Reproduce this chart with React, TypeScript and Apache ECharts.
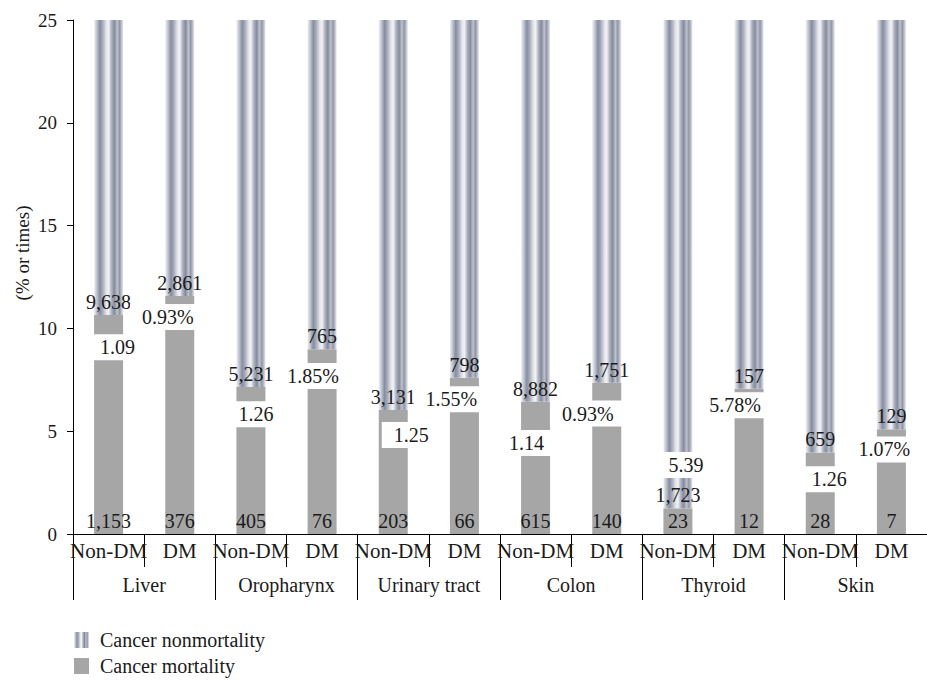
import React, { useEffect, useRef } from 'react';
import * as echarts from 'echarts';

// ---- data ----
const groups = ['Liver', 'Oropharynx', 'Urinary tract', 'Colon', 'Thyroid', 'Skin'];
const subgroups = ['Non-DM', 'DM'];
const mortalityHeight = [10.65, 11.58, 7.15, 8.98, 6.03, 7.6, 6.44, 7.36, 1.25, 7.07, 3.97, 5.09];
const axisMax = 25;
const mortalityCount = ['1,153', '376', '405', '76', '203', '66', '615', '140', '23', '12', '28', '7'];
const nonMortalityCount = ['9,638', '2,861', '5,231', '765', '3,131', '798', '8,882', '1,751', '1,723', '157', '659', '129'];
const ratioLabels = ['1.09', '0.93%', '1.26', '1.85%', '1.25', '1.55%', '1.14', '0.93%', '5.39', '5.78%', '1.26', '1.07%'];
const yTicks = [0, 5, 10, 15, 20, 25];

// ---- layout of the boxed ratio labels (value units / px) ----
const ratioLabelY = [9.08, 10.55, 5.82, 7.68, 4.82, 6.55, 4.42, 5.86, 3.35, 6.26, 2.66, 4.11];
const ratioLabelDx = [9, -12, 5, -9, 18, -13, -9, -19, 8, -14, 9, -7];

const FONT = 'Liberation Serif';
const TEXT = '#1a1a1a';

export default function App() {
  const ref = useRef<HTMLDivElement>(null);
  useEffect(() => {
    document.body.style.margin = '0';
    const chart = echarts.init(ref.current!, null, { renderer: 'svg' });
    const categories: string[] = [];
    groups.forEach(() => subgroups.forEach((s) => categories.push(s)));

    const stripe = new echarts.graphic.LinearGradient(0, 0, 1, 0, [
      { offset: 0.0, color: '#eeeff2' },
      { offset: 0.08, color: '#c8cbd5' },
      { offset: 0.2, color: '#878da1' },
      { offset: 0.3, color: '#a9aebd' },
      { offset: 0.42, color: '#e2e4e9' },
      { offset: 0.5, color: '#f3f3f5' },
      { offset: 0.6, color: '#aeb2c0' },
      { offset: 0.7, color: '#858b9f' },
      { offset: 0.8, color: '#bfc2cc' },
      { offset: 0.88, color: '#9096a8' },
      { offset: 1.0, color: '#e6e7eb' },
    ]);

    const option: any = {
      animation: false,
      textStyle: { fontFamily: FONT },
      grid: { left: 73, top: 20, width: 863, height: 514, containLabel: false },
      legend: {
        data: [
          { name: 'Cancer nonmortality', icon: 'rect' },
          { name: 'Cancer mortality', icon: 'rect' },
        ],
        orient: 'vertical',
        left: 74,
        top: 630,
        height: 50,
        padding: 0,
        itemWidth: 15,
        itemHeight: 16,
        itemGap: 6,
        textStyle: { fontFamily: FONT, fontSize: 20, lineHeight: 20, color: TEXT, padding: [0, 0, 0, 6] },
      },
      xAxis: [
        {
          type: 'category',
          data: categories,
          axisLine: { show: true, lineStyle: { color: '#000', width: 1 } },
          axisTick: { show: true, interval: 0, length: 33, lineStyle: { color: '#000' } },
          axisLabel: { interval: 0, fontFamily: FONT, fontSize: 21, color: TEXT, margin: 6 },
          splitLine: { show: false },
        },
        {
          type: 'category',
          data: groups,
          position: 'bottom',
          axisLine: { show: false },
          axisTick: { show: true, interval: 0, length: 66, lineStyle: { color: '#000' } },
          axisLabel: { interval: 0, fontFamily: FONT, fontSize: 20, color: TEXT, margin: 41 },
          splitLine: { show: false },
        },
      ],
      yAxis: {
        type: 'value',
        min: yTicks[0],
        max: yTicks[yTicks.length - 1],
        interval: 5,
        axisLine: { show: true, lineStyle: { color: '#000', width: 1 } },
        axisTick: { show: true, length: 6, lineStyle: { color: '#000' } },
        axisLabel: { fontFamily: FONT, fontSize: 19, color: TEXT, margin: 16 },
        splitLine: { show: false },
      },
      graphic: [
        {
          type: 'text',
          x: 22,
          y: 253,
          rotation: Math.PI / 2,
          style: {
            text: '(% or times)',
            fontFamily: FONT,
            fontSize: 19,
            fill: TEXT,
            align: 'center',
            verticalAlign: 'middle',
          },
        },
      ],
      series: [
        {
          name: 'Cancer mortality',
          type: 'bar',
          stack: 'a',
          xAxisIndex: 0,
          barWidth: 29,
          data: mortalityHeight,
          itemStyle: { color: '#a6a6a6' },
          label: {
            show: true,
            position: 'insideBottom',
            distance: 3,
            formatter: (p: any) => mortalityCount[p.dataIndex],
            fontFamily: FONT,
            fontSize: 20,
            lineHeight: 20,
            color: TEXT,
          },
        },
        {
          name: 'Cancer nonmortality',
          type: 'bar',
          stack: 'a',
          xAxisIndex: 0,
          barWidth: 29,
          data: mortalityHeight.map((v) => axisMax - v),
          itemStyle: { color: stripe },
          label: {
            show: true,
            position: 'insideBottom',
            distance: 3,
            formatter: (p: any) => nonMortalityCount[p.dataIndex],
            fontFamily: FONT,
            fontSize: 20,
            lineHeight: 20,
            color: TEXT,
          },
        },
        {
          type: 'scatter',
          xAxisIndex: 0,
          z: 5,
          symbolSize: 1,
          itemStyle: { color: 'rgba(0,0,0,0)', opacity: 1 },
          data: ratioLabelY.map((y, i) => [i, y]),
          label: {
            show: true,
            position: 'inside',
            formatter: (p: any) => ratioLabels[p.dataIndex],
            fontFamily: FONT,
            fontSize: 20,
            lineHeight: 20,
            color: TEXT,
            opacity: 1,
            backgroundColor: '#ffffff',
            padding: [3, 12],
          },
          labelLayout: (p: any) => ({ dx: ratioLabelDx[p.dataIndex] }),
        },
      ],
    };
    chart.setOption(option);
    return () => chart.dispose();
  }, []);
  return <div ref={ref} style={{ width: 927, height: 680 }} />;
}
